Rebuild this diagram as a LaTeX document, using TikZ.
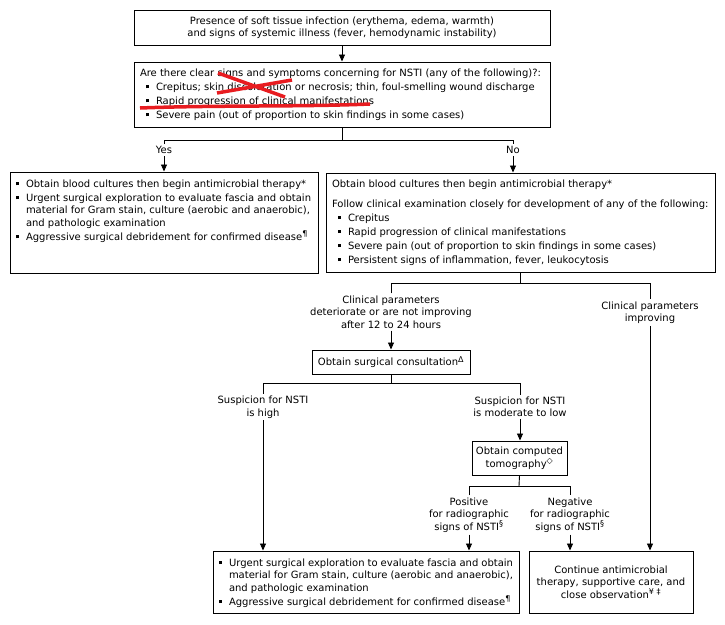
\documentclass[tikz,border=0pt]{standalone}
\usepackage{fontspec}
\setmainfont{DejaVu Sans}
\usetikzlibrary{arrows.meta,positioning}
\definecolor{markred}{RGB}{232,28,32}
\newcommand{\sqb}{\rule[1.8pt]{3.4pt}{3.4pt}}
\newcommand{\bitem}[1]{\par\vspace{1.5pt}\hangindent=10pt\hangafter=1\noindent\makebox[10pt][l]{\sqb}#1}
\newcommand{\bitemin}[1]{\par\vspace{1.5pt}\hangindent=16pt\hangafter=1\noindent\hspace*{6pt}\makebox[10pt][l]{\sqb}#1}
\newcommand{\sps}[1]{\textsuperscript{\fontsize{8}{8}\selectfont #1}}

\begin{document}
\begin{tikzpicture}[x=1pt,y=-1pt,
every node/.style={font=\fontsize{10}{12.5}\selectfont},
box/.style={draw,line width=0.95pt,inner sep=0pt},
lbl/.style={align=center,inner sep=2pt},
conn/.style={line width=0.9pt},
>={Triangle[length=7pt,width=6pt]}]
\useasboundingbox (0,0) rectangle (725,624);
\node[box,minimum width=416pt,minimum height=35pt,align=center] (pres) at (342,27.5) {Presence of soft tissue infection (erythema, edema, warmth)\\and signs of systemic illness (fever, hemodynamic instability)};
\node[box,minimum width=416pt,minimum height=65pt] (q) at (342,94.5) {\parbox{404pt}{Are there clear signs and symptoms concerning for NSTI (any of the following)?:
\bitemin{Crepitus; skin discoloration or necrosis; thin, foul-smelling wound discharge}
\bitemin{Rapid progression of clinical manifestations}
\bitemin{Severe pain (out of proportion to skin findings in some cases)}}};
\node[lbl] (yes) at (164,150) {Yes};
\node[lbl] (no) at (513,150) {No};
\node[box,minimum width=308pt,minimum height=101pt] (urg1) at (164,222.5) {\parbox[c][89pt][t]{296pt}{\bitem{Obtain blood cultures then begin antimicrobial therapy*}
\bitem{Urgent surgical exploration to evaluate fascia and obtain\\material for Gram stain, culture (aerobic and anaerobic),\\and pathologic examination}
\bitem{Aggressive surgical debridement for confirmed disease\sps{¶}}}};
\node[box,minimum width=389pt,minimum height=99pt] (obs) at (520.5,222.5) {\parbox{377pt}{Obtain blood cultures then begin antimicrobial therapy*\par\vspace{7pt}
\noindent Follow clinical examination closely for development of any of the following:
\bitemin{Crepitus}
\bitemin{Rapid progression of clinical manifestations}
\bitemin{Severe pain (out of proportion to skin findings in some cases)}
\bitemin{Persistent signs of inflammation, fever, leukocytosis}}};
\node[lbl] (det) at (391,312) {Clinical parameters\\deteriorate or are not improving\\after 12 to 24 hours};
\node[lbl] (imp) at (650,312.5) {Clinical parameters\\improving};
\node[box,minimum width=158pt,minimum height=24pt] (cons) at (391,362) {Obtain surgical consultation\sps{Δ}};
\node[lbl] (high) at (263,407) {Suspicion for NSTI\\is high};
\node[lbl] (mod) at (520,407) {Suspicion for NSTI\\is moderate to low};
\node[box,minimum width=95pt,minimum height=34pt,align=center] (ct) at (519.5,458) {Obtain computed\\tomography\sps{◇}};
\node[lbl] (pos) at (469,515) {Positive\\for radiographic\\signs of NSTI\sps{§}};
\node[lbl] (neg) at (570,515) {Negative\\for radiographic\\signs of NSTI\sps{§}};
\node[box,minimum width=306pt,minimum height=62pt] (urg2) at (366,582) {\parbox{294pt}{\bitem{Urgent surgical exploration to evaluate fascia and obtain\\material for Gram stain, culture (aerobic and anaerobic),\\and pathologic examination}
\bitem{Aggressive surgical debridement for confirmed disease\sps{¶}}}};
\node[box,minimum width=164pt,minimum height=62pt,align=center] (cont) at (611,582) {Continue antimicrobial\\therapy, supportive care, and\\close observation\sps{¥ ‡}};
\coordinate (j1) at (342,140);
\coordinate (j2) at (520,283);
\coordinate (j3) at (391,383);
\coordinate (j4) at (519,486);
\draw[conn,->] (pres) -- (q);
\draw[conn] (q.south) -- (j1);
\draw[conn] (yes.north) -- (yes.north |- j1) -- (no.north |- j1) -- (no.north);
\draw[conn,->] (yes.south) -- (yes.south |- urg1.north);
\draw[conn,->] (no.south) -- (no.south |- obs.north);
\draw[conn] (obs.south -| j2) -- (j2);
\draw[conn] (det.north) -- (det.north |- j2) -- (imp.north |- j2) -- (imp.north);
\draw[conn,->] (det.south) -- (cons.north);
\draw[conn,->] (imp.south) -- (imp.south |- cont.north);
\draw[conn] (cons.south) -- (j3);
\draw[conn] (high.north) -- (high.north |- j3) -- (mod.north |- j3) -- (mod.north);
\draw[conn,->] (high.south) -- (high.south |- urg2.north);
\draw[conn,->] (mod.south) -- (mod.south |- ct.north);
\draw[conn] (ct.south) -- (j4);
\draw[conn] (pos.north) -- (pos.north |- j4) -- (neg.north |- j4) -- (neg.north);
\draw[conn,->] (pos.south) -- (pos.south |- urg2.north);
\draw[conn,->] (neg.south) -- (neg.south |- cont.north);
\draw[markred,line width=3.5pt] (218,73) -- (285,97);
\draw[markred,line width=3.5pt] (217,93) -- (292,80);
\draw[markred,line width=3.5pt] (140,108) .. controls (220,105) and (300,107) .. (370,104);
\end{tikzpicture}
\end{document}
